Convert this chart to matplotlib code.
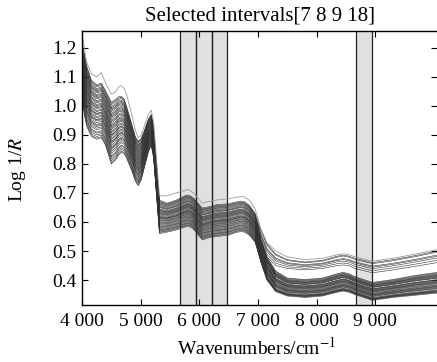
import matplotlib
matplotlib.use("Agg")
import matplotlib.pyplot as plt
import numpy as np

# ---------------- data ----------------
wavenumbers = [4000, 4040, 4080, 4160, 4250, 4330, 4400, 4500, 4580, 4620,
               4670, 4720, 4760, 4860, 4910, 4960, 5010, 5060, 5130, 5180,
               5220,
               5320, 5450, 5600, 5750, 5800, 5850, 5900, 6050, 6150, 6300,
               6500, 6650, 6710, 6770, 6850, 6950,
               7050, 7150, 7300, 7500, 7800, 8100, 8350, 8450, 8550, 8650,
               8950, 9300, 9700, 10050]
# segments split at the two steep drops (~5270 and ~7000 cm-1)
seg_bounds = [0, 21, 37, 51]

# envelope of all spectra (below 7000) / of the main low group (above 7000)
env_top = [1.22, 1.18, 1.14, 1.09, 1.075, 1.08, 1.055, 1.015, 1.025, 1.033,
           1.035, 1.025, 1.00, 0.93, 0.895, 0.88, 0.89, 0.915, 0.955, 0.972,
           0.93,
           0.675, 0.665, 0.675, 0.69, 0.693, 0.69, 0.683, 0.648, 0.652, 0.66,
           0.663, 0.67, 0.672, 0.67, 0.658, 0.63,
           0.545, 0.485, 0.435, 0.41, 0.405, 0.41, 0.425, 0.43, 0.425, 0.415,
           0.395, 0.405, 0.42, 0.43]
env_bot = [1.03, 0.97, 0.93, 0.895, 0.885, 0.89, 0.865, 0.80, 0.815, 0.83,
           0.84, 0.835, 0.82, 0.77, 0.74, 0.725, 0.745, 0.785, 0.84, 0.865,
           0.82,
           0.56, 0.565, 0.572, 0.582, 0.585, 0.582, 0.575, 0.538, 0.545, 0.55,
           0.555, 0.565, 0.567, 0.565, 0.555, 0.53,
           0.46, 0.40, 0.36, 0.345, 0.34, 0.345, 0.358, 0.362, 0.358, 0.35,
           0.33, 0.34, 0.348, 0.355]
# envelope of the small high group above 7000 cm-1 (7050 ... 10050)
high_top = [0.575, 0.525, 0.49, 0.47, 0.462, 0.468, 0.482, 0.486, 0.482, 0.475,
            0.46, 0.47, 0.485, 0.50]
high_bot = [0.53, 0.48, 0.45, 0.44, 0.435, 0.44, 0.45, 0.452, 0.449, 0.44,
            0.425, 0.435, 0.448, 0.46]

# position of each sample inside the envelope, per segment
levels_seg1 = [0.02, 0.95, 0.41, 0.66, 0.13, 0.88, 0.30, 0.52, 0.77, 0.08, 0.61,
               0.36, 0.99, 0.23, 0.70, 0.47, 0.84, 0.17, 0.57, 0.92, 0.27, 0.44,
               0.73, 0.05, 0.63, 0.33, 0.81, 0.50, 0.11, 0.68, 0.39, 0.90, 0.20,
               0.55, 0.79, 0.00, 0.46, 0.86, 0.25, 0.59, 0.97, 0.35, 0.75]
levels_seg2 = [0.10, 0.85, 0.48, 0.60, 0.22, 0.95, 0.35, 0.40, 0.70, 0.05, 0.66,
               0.28, 1.00, 0.15, 0.78, 0.52, 0.90, 0.30, 0.45, 0.82, 0.18, 0.58,
               0.62, 0.00, 0.74, 0.25, 0.88, 0.42, 0.08, 0.55, 0.33, 0.97, 0.12,
               0.64, 0.72, 0.03, 0.38, 0.80, 0.20, 0.50, 0.93, 0.47, 0.68]
levels_seg3 = [0.05, 0.90, 0.62, 0.70, 0.20, 0.40, 0.30, 0.45, 0.80, 0.00, 0.75,
               0.25, 1.00, 0.12, 0.85, 0.55, 0.65, 0.35, 0.50, 0.95, 0.15, 0.68,
               0.58, 0.03, 0.88, 0.28, 0.20, 0.48, 0.10, 0.60, 0.38, 0.00, 0.08,
               0.72, 0.78, 0.07, 0.42, 0.92, 0.22, 0.52, 0.55, 0.32, 0.82]
groups = ['B', 'A', 'B', 'B', 'B', 'A', 'B', 'B', 'B', 'B', 'B',
          'B', 'A', 'B', 'B', 'B', 'A', 'B', 'B', 'B', 'B', 'B',
          'B', 'B', 'B', 'B', 'A', 'B', 'B', 'B', 'B', 'A', 'B',
          'B', 'B', 'B', 'B', 'B', 'B', 'B', 'A', 'B', 'B']

# light grey outlier spectrum
outlier = [1.25, 1.2, 1.15, 1.11, 1.10, 1.115, 1.08, 1.04, 1.05, 1.065,
           1.07, 1.06, 1.04, 0.96, 0.915, 0.89, 0.90, 0.93, 0.97, 0.985,
           0.945,
           0.69, 0.69, 0.70, 0.708, 0.712, 0.708, 0.70, 0.665, 0.67, 0.676,
           0.68, 0.686, 0.688, 0.686, 0.675, 0.645,
           0.575, 0.53, 0.50, 0.48, 0.47, 0.475, 0.487, 0.49, 0.487, 0.48,
           0.465, 0.475, 0.49, 0.505]

# selected intervals (7, 8, 9, 18) in cm-1
intervals = [(5675, 5945), (5945, 6210), (6210, 6475), (8670, 8940)]
xticks = [4000, 5000, 6000, 7000, 8000, 9000]
xtick_labels = ["4 000", "5 000", "6 000", "7 000", "8 000", "9 000"]
yticks = [0.4, 0.5, 0.6, 0.7, 0.8, 0.9, 1.0, 1.1, 1.2]

# ---------------- figure ----------------
plt.rcParams['font.family'] = ['Liberation Serif', 'DejaVu Serif']
plt.rcParams['mathtext.fontset'] = 'stix'

fig = plt.figure(figsize=(4.37, 3.62), dpi=100)
ax = fig.add_axes([82 / 437, 57 / 362, 355 / 437, 274 / 362])

for lo, hi in intervals:
    ax.axvspan(lo, hi, facecolor='#e0e0e0', edgecolor='none', zorder=0)
    ax.axvline(lo, color='#222222', lw=0.9, zorder=1)
    ax.axvline(hi, color='#222222', lw=0.9, zorder=1)

w = np.array(wavenumbers, dtype=float)
et, eb = np.array(env_top), np.array(env_bot)
ht, hb = np.array(high_top), np.array(high_bot)
s0, s1, s2, s3 = seg_bounds
for l1, l2, l3, g in zip(levels_seg1, levels_seg2, levels_seg3, groups):
    y = np.empty_like(w)
    y[s0:s1] = eb[s0:s1] + l1 * (et[s0:s1] - eb[s0:s1])
    y[s1:s2] = eb[s1:s2] + l2 * (et[s1:s2] - eb[s1:s2])
    if g == 'A':
        y[s2:s3] = hb + l3 * (ht - hb)
    else:
        y[s2:s3] = eb[s2:s3] + l3 * (et[s2:s3] - eb[s2:s3])
    ax.plot(w, y, color='#303030', lw=0.4, zorder=2)
ax.plot(w, outlier, color='#9a9a9a', lw=0.6, zorder=2)

ax.set_xlim(4000, 10050)
ax.set_ylim(0.314, 1.258)
ax.set_xticks(xticks)
ax.set_xticklabels(xtick_labels)
ax.set_yticks(yticks)
ax.set_yticklabels([f"{v:.1f}" for v in yticks])
ax.tick_params(direction='in', length=4, width=0.8, labelsize=14,
               top=True, right=True)
ax.tick_params(axis='x', pad=6)
ax.tick_params(axis='y', pad=4)
for s in ['left', 'bottom', 'top']:
    ax.spines[s].set_linewidth(1.0)
ax.spines['right'].set_visible(False)

fig.text(260 / 437, 1 - 21 / 362, "Selected intervals[7 8 9 18]",
         ha='center', va='baseline', fontsize=15)
fig.text(256 / 437, 1 - 355 / 362, r"Wavenumbers/cm$^{-1}$",
         ha='center', va='baseline', fontsize=14)
fig.text(17 / 437, 1 - 170 / 362, r"Log 1/$R$", rotation=90,
         ha='center', va='center', fontsize=14)

fig.savefig("out.png", dpi=100)
